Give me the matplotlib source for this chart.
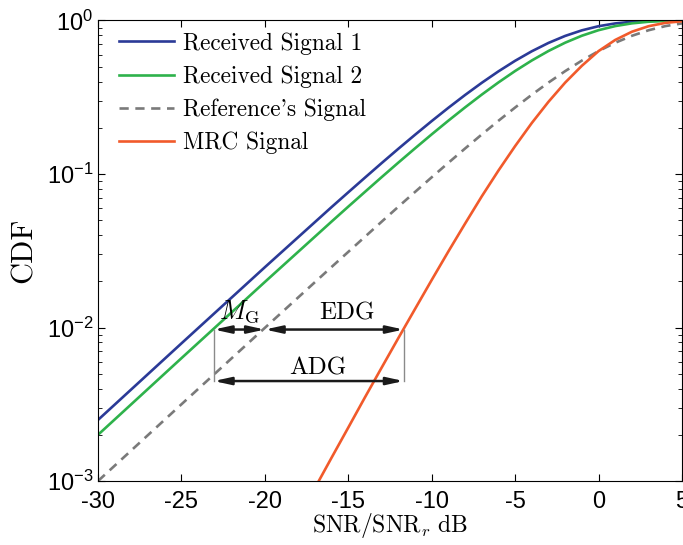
import matplotlib
matplotlib.use("Agg")
import matplotlib.pyplot as plt
from matplotlib.ticker import LogLocator, NullFormatter

plt.rcParams['mathtext.fontset'] = 'cm'
plt.rcParams['font.family'] = ['Liberation Sans', 'DejaVu Sans']
plt.rcParams['axes.unicode_minus'] = False

# SNR/SNR_r in dB
snr_db = [-30, -25, -20, -16, -15, -14, -13, -12, -11, -10, -9, -8, -7, -6,
          -5, -4, -3, -2, -1, 0, 1, 2, 3, 4, 5]
sig1 = [0.00250, 0.00788, 0.0247, 0.0609, 0.0760, 0.0947, 0.1178, 0.1460,
        0.1801, 0.2212, 0.2700, 0.3271, 0.3927, 0.4663, 0.5464, 0.6304,
        0.7144, 0.7935, 0.8627, 0.9179, 0.9570, 0.9810, 0.9932, 0.9981, 0.9996]
sig2 = [0.00200, 0.00631, 0.0198, 0.0490, 0.0613, 0.0765, 0.0954, 0.1186,
        0.1469, 0.1813, 0.2226, 0.2716, 0.3290, 0.3949, 0.4688, 0.5490,
        0.6330, 0.7169, 0.7958, 0.8647, 0.9194, 0.9580, 0.9815, 0.9934, 0.9982]
ref_sig = [0.00100, 0.00316, 0.00995, 0.0248, 0.0311, 0.0390, 0.0489, 0.0612,
           0.0764, 0.0952, 0.1183, 0.1466, 0.1809, 0.2222, 0.2711, 0.3284,
           0.3942, 0.4679, 0.5481, 0.6321, 0.7160, 0.7950, 0.8640, 0.9189, 0.9577]

mrc_db = [-17, -16, -15, -14, -13, -12, -11, -10, -9, -8, -7, -6, -5, -4, -3,
          -2, -1, 0, 1, 2, 3, 4, 5]
mrc = [0.00090, 0.00142, 0.00223, 0.00351, 0.00548, 0.00853, 0.0132, 0.0204,
       0.0313, 0.0475, 0.0715, 0.1053, 0.152, 0.215, 0.2955, 0.394, 0.507,
       0.632, 0.747, 0.845, 0.918, 0.965, 0.9884]

labels = ['Received Signal 1', 'Received Signal 2', "Reference's Signal", 'MRC Signal']
colors = ['#2B3A97', '#2EB24B', '#7A7A7A', '#F15A2B']

# annotation levels
mg_x = [-23.06, -20.0]
edg_x = [-20.0, -11.68]
adg_x = [-23.06, -11.68]
edg_y = 0.0097
adg_y = 0.00448

fig = plt.figure(figsize=(6.83, 5.45), dpi=100)
ax = fig.add_axes([0.1435, 0.1174, 0.855, 0.845])

ax.plot(snr_db, sig1, color=colors[0], lw=1.9, label=labels[0])
ax.plot(snr_db, sig2, color=colors[1], lw=1.9, label=labels[1])
ax.plot(snr_db, ref_sig, color=colors[2], lw=1.9, ls=(0, (3.5, 2.5)), label=labels[2])
ax.plot(mrc_db, mrc, color=colors[3], lw=1.9, label=labels[3])

ax.set_yscale('log')
ax.set_xlim(-30, 5)
ax.set_ylim(1e-3, 1)
ax.set_xticks([-30, -25, -20, -15, -10, -5, 0, 5])
ax.yaxis.set_minor_locator(LogLocator(base=10, subs=range(2, 10)))
ax.yaxis.set_minor_formatter(NullFormatter())
ax.tick_params(which='both', direction='in', top=True, right=True, labelsize=17)
ax.tick_params(which='major', length=5, width=0.8)
ax.tick_params(which='minor', length=3, width=0.6)
ax.tick_params(axis='x', pad=7)

# annotations
vcol = '#8A8A8A'
ax.plot([adg_x[0], adg_x[0]], [adg_y, edg_y], color=vcol, lw=1.0)
ax.plot([adg_x[1], adg_x[1]], [adg_y, edg_y], color=vcol, lw=1.0)
ap = dict(arrowstyle='<|-|>,head_length=1.0,head_width=0.22', color='#1a1a1a',
          lw=1.8, shrinkA=0, shrinkB=0)
ax.annotate('', xy=(mg_x[1], edg_y), xytext=(mg_x[0], edg_y), arrowprops=ap)
ax.annotate('', xy=(edg_x[1], edg_y), xytext=(edg_x[0], edg_y), arrowprops=ap)
ax.annotate('', xy=(adg_x[1], adg_y), xytext=(adg_x[0], adg_y), arrowprops=ap)

ax.text(-21.5, 0.01136, r'$M_{\mathrm{G}}$', ha='center', va='baseline', fontsize=19)
ax.text(-15.05, 0.01136, 'EDG', ha='center', va='baseline', fontsize=18, family='cmr10')
ax.text(-16.84, 0.00491, 'ADG', ha='center', va='baseline', fontsize=18, family='cmr10')

ax.set_xlabel(r'$\mathrm{SNR/SNR}_r\ \mathrm{dB}$', fontsize=17, labelpad=-1)
ax.set_ylabel('CDF', fontsize=22, family='cmr10', labelpad=6)

leg = ax.legend(loc='upper left', bbox_to_anchor=(0.02, 0.995), frameon=False,
                handlelength=2.35, handletextpad=0.4, labelspacing=0.46,
                borderaxespad=0.0, prop={'family': 'cmr10', 'size': 16.8})

fig.savefig('out.png', dpi=100)
